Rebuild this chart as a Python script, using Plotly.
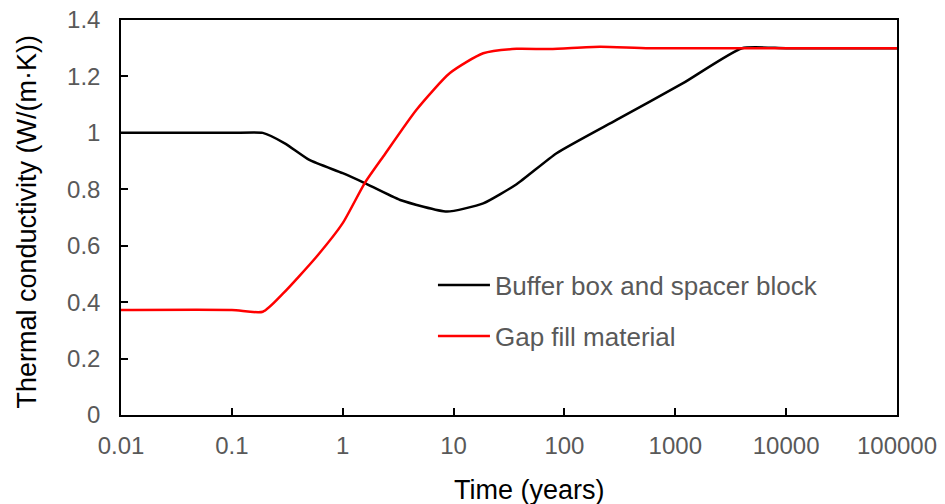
import plotly.graph_objects as go

# Time axis (years) and thermal conductivity values, W/(m·K)
buffer_time = [0.01, 0.1, 0.19, 0.3, 0.5, 1.0, 1.58, 3.3, 8.7, 18.5, 37, 85, 295, 1175, 4000, 10000, 100000]
buffer_k = [1.0, 1.0, 1.0, 0.963, 0.904, 0.857, 0.822, 0.762, 0.721, 0.75, 0.818, 0.928, 1.046, 1.176, 1.30, 1.30, 1.30]

gap_time = [0.01, 0.1, 0.19, 0.29, 0.58, 1.0, 1.58, 2.32, 4.63, 9.27, 18.5, 37, 74, 209, 590, 100000]
gap_k = [0.372, 0.372, 0.366, 0.431, 0.561, 0.68, 0.822, 0.916, 1.082, 1.212, 1.282, 1.298, 1.297, 1.305, 1.300, 1.300]

x_ticks = [0.01, 0.1, 1, 10, 100, 1000, 10000, 100000]
x_tick_text = ["0.01", "0.1", "1", "10", "100", "1000", "10000", "100000"]
y_ticks = [0, 0.2, 0.4, 0.6, 0.8, 1.0, 1.2, 1.4]
y_tick_text = ["0", "0.2", "0.4", "0.6", "0.8", "1", "1.2", "1.4"]

FONT = "Liberation Sans, Arial, sans-serif"
GREY = "#595959"

fig = go.Figure()
fig.add_trace(go.Scatter(
    x=buffer_time, y=buffer_k, mode="lines", name="Buffer box and spacer block",
    line=dict(color="black", width=2.5, shape="spline", smoothing=0.5),
    legendgroup="a",
))
fig.add_trace(go.Scatter(
    x=gap_time, y=gap_k, mode="lines", name="Gap fill material",
    line=dict(color="#ff0000", width=2.5, shape="spline", smoothing=0.6),
    legendgroup="b",
))

fig.update_layout(
    width=945, height=504,
    margin=dict(l=121, r=48, t=20, b=89, autoexpand=False),
    paper_bgcolor="white", plot_bgcolor="white",
    font=dict(family=FONT, size=24, color=GREY),
    showlegend=True,
    legend=dict(
        x=0.402, y=0.264, xanchor="left", yanchor="middle",
        bgcolor="rgba(0,0,0,0)", traceorder="grouped", tracegroupgap=14,
        font=dict(size=26, color=GREY), itemwidth=52,
    ),
    xaxis=dict(
        type="log", range=[-2, 5], tickvals=x_ticks, ticktext=x_tick_text,
        showline=True, linecolor="black", linewidth=1.5, mirror=True,
        ticks="inside", ticklen=7, tickcolor="black", tickwidth=1.5,
        showgrid=False, zeroline=False, ticklabelstandoff=8,
    ),
    yaxis=dict(
        range=[0, 1.4], tickvals=y_ticks, ticktext=y_tick_text,
        showline=True, linecolor="black", linewidth=1.5, mirror=True,
        ticks="inside", ticklen=7, tickcolor="black", tickwidth=1.5,
        showgrid=False, zeroline=False, ticklabelstandoff=14,
    ),
    annotations=[
        dict(text="Time (years)", xref="paper", yref="paper", x=0.527, y=-0.189,
             xanchor="center", yanchor="middle", showarrow=False,
             font=dict(family=FONT, size=27, color="black")),
        dict(text="Thermal conductivity (W/(m·K))", xref="paper", yref="paper",
             x=-0.121, y=0.49, xanchor="center", yanchor="middle", showarrow=False,
             textangle=-90, font=dict(family=FONT, size=27, color="black")),
    ],
)

fig.write_html("out.html")
